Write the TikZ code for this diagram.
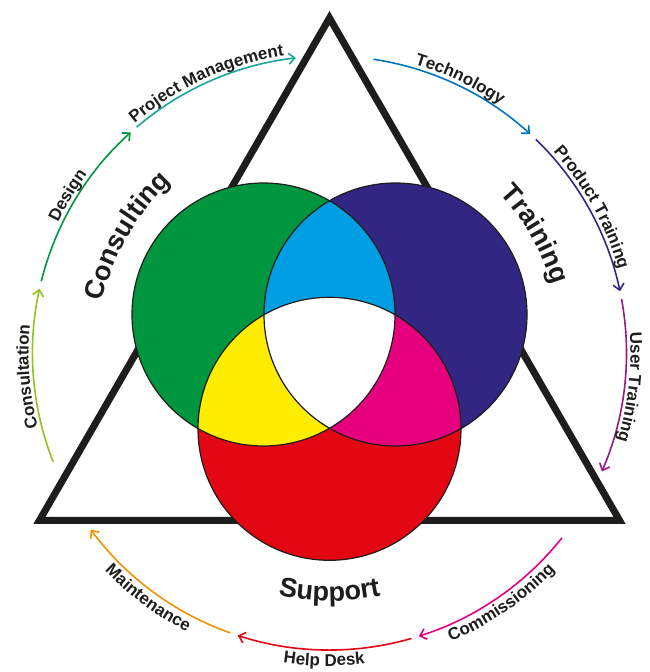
\documentclass[tikz,border=0pt]{standalone}
\usepackage{fontspec}
\setsansfont{Liberation Sans}
\usetikzlibrary{arrows.meta,decorations.text}

\definecolor{inkgray}{HTML}{1D1D1B}
\definecolor{cgreen}{HTML}{009640}
\definecolor{cpurple}{HTML}{312783}
\definecolor{cred}{HTML}{E30613}
\definecolor{cblue}{HTML}{009FE3}
\definecolor{cyellow}{HTML}{FFED00}
\definecolor{cmagenta}{HTML}{E6007E}
\definecolor{cconsult}{HTML}{95C11F}
\definecolor{cproject}{HTML}{1BA39A}
\definecolor{ctech}{HTML}{0075BF}
\definecolor{cuser}{HTML}{951B81}
\definecolor{cmaint}{HTML}{F39200}

\newcommand{\smalllab}{\color{inkgray}\sffamily\bfseries\fontsize{17}{18}\selectfont}
\newcommand{\biglab}{\color{inkgray}\sffamily\bfseries\fontsize{27}{28}\selectfont}

\tikzset{
  ring/.style={line width=1.6pt, ->},
  ringlabel/.style={decorate, decoration={text along path, text align=center, text={|\smalllab|#1}}},
  biglabel/.style={decorate, decoration={text along path, text align=center, text={|\biglab|#1}}},
  outline/.style={draw=inkgray, line width=1.2pt},
}

\begin{document}
\begin{tikzpicture}[x=1pt, y=1pt, >={Straight Barb[length=6pt,width=11pt]}]
\useasboundingbox (0,0) rectangle (649,672);
\coordinate (C) at (329.5,319);
\coordinate (G) at (263.5,357.5);
\coordinate (P) at (395.5,357.5);
\coordinate (R) at (329.5,243.2);

% triangle behind the circles
\draw[inkgray, line width=7pt, line join=miter] (C) ++(90:335) coordinate (vtop) -- ++(240:580) coordinate (vleft) -- ++(0:580) coordinate (vright) -- cycle;

% circles and their overlaps
\fill[cgreen] (G) circle[radius=131.5pt];
\fill[cpurple] (P) circle[radius=131.5pt];
\fill[cred] (R) circle[radius=131.5pt];
\begin{scope}
\clip (G) circle[radius=131.5pt];
\fill[cblue] (P) circle[radius=131.5pt];
\fill[cyellow] (R) circle[radius=131.5pt];
\end{scope}
\begin{scope}
\clip (P) circle[radius=131.5pt];
\fill[cmagenta] (R) circle[radius=131.5pt];
\clip (G) circle[radius=131.5pt];
\fill[white] (R) circle[radius=131.5pt];
\end{scope}
\foreach \c in {G,P,R}
{
    \draw[outline] (\c) circle[radius=131.5pt];
}

% outer cycle of arrows
\foreach \a/\col in {201.5/cconsult, 166/cgreen, 130.5/cproject, 81.5/ctech, 46/cpurple, 10.5/cuser, -38.5/cmagenta, -74/cred, -109.5/cmaint}
{
    \draw[ring, \col] (C) ++(\a:297) arc[start angle=\a, end angle=\a-34, radius=297pt];
}
\path[ringlabel=Consultation] (C) ++(209.5:301) arc[start angle=209.5, end angle=159.5, radius=301pt];
\path[ringlabel=Design] (C) ++(174:301) arc[start angle=174, end angle=124, radius=301pt];
\path[ringlabel={Project Management}] (C) ++(139.5:301) arc[start angle=139.5, end angle=89.5, radius=301pt];
\path[ringlabel=Technology] (C) ++(89.5:301) arc[start angle=89.5, end angle=39.5, radius=301pt];
\path[ringlabel={Product Training}] (C) ++(54:301) arc[start angle=54, end angle=4, radius=301pt];
\path[ringlabel={User Training}] (C) ++(18.5:301) arc[start angle=18.5, end angle=-31.5, radius=301pt];
\path[ringlabel=Commissioning] (C) ++(-80.5:313) arc[start angle=-80.5, end angle=-30.5, radius=313pt];
\path[ringlabel={Help Desk}] (C) ++(-116:313) arc[start angle=-116, end angle=-66, radius=313pt];
\path[ringlabel=Maintenance] (C) ++(-151.5:313) arc[start angle=-151.5, end angle=-101.5, radius=313pt];

% the three headings
\path[biglabel=Consulting] (C) ++(175:233) arc[start angle=175, end angle=125, radius=233pt];
\path[biglabel=Training] (C) ++(55:233) arc[start angle=55, end angle=5, radius=233pt];
\path[biglabel=Support] (C) ++(245:248) arc[start angle=245, end angle=295, radius=248pt];
\end{tikzpicture}
\end{document}
